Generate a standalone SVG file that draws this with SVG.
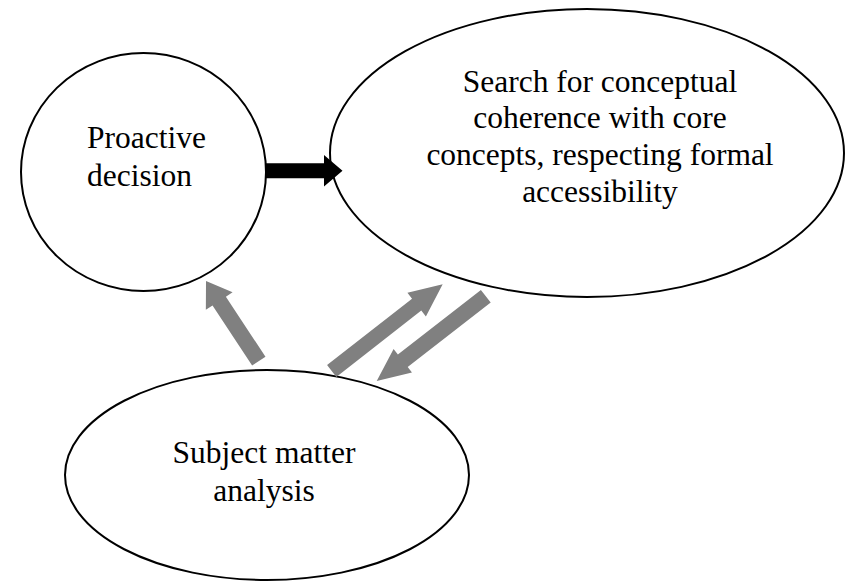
<svg xmlns="http://www.w3.org/2000/svg" width="846" height="582" viewBox="0 0 846 582">
  <style>
    .node { fill: #ffffff; stroke: #000000; stroke-width: 2; }
    .label { font-family: "Liberation Serif", "Times New Roman", serif; font-size: 31.5px; fill: #000000; }
    .gray { fill: #808080; stroke: none; }
    .black { fill: #000000; stroke: none; }
  </style>
  <rect x="0" y="0" width="846" height="582" fill="#ffffff"/>
  <g id="node-proactive">
    <ellipse class="node" cx="143.5" cy="172" rx="122.5" ry="119"/>
    <text class="label" x="87" y="147.7">Proactive</text>
    <text class="label" x="87" y="185.5">decision</text>
  </g>
  <g id="node-search">
    <ellipse class="node" cx="587" cy="153" rx="257" ry="144"/>
    <text class="label" text-anchor="middle" x="600" y="91.7">Search for conceptual</text>
    <text class="label" text-anchor="middle" x="600" y="128.4">coherence with core</text>
    <text class="label" text-anchor="middle" x="600" y="165.1">concepts, respecting formal</text>
    <text class="label" text-anchor="middle" x="600" y="201.8">accessibility</text>
  </g>
  <g id="node-subject">
    <ellipse class="node" cx="267" cy="475" rx="202" ry="105"/>
    <text class="label" text-anchor="middle" x="264" y="463.3">Subject matter</text>
    <text class="label" text-anchor="middle" x="264" y="500.5">analysis</text>
  </g>
  <g id="connectors">
    <path class="black" d="M266,163.3 L324,163.3 L324,155 L342.5,170.8 L324,186.6 L324,178.3 L266,178.3 Z"/>
    <path class="gray" transform="translate(258.8,361.2) rotate(-123.36)" d="M0,-8 L72,-8 L72,-16 L96,0 L72,16 L72,8 L0,8 Z"/>
    <path class="gray" transform="translate(331.7,371) rotate(-37.99)" d="M0,-7.5 L107.8,-7.5 L107.8,-15 L140.8,0 L107.8,15 L107.8,7.5 L0,7.5 Z"/>
    <path class="gray" transform="translate(485.8,296.3) rotate(142.17)" d="M0,-8 L105.1,-8 L105.1,-15 L138.1,0 L105.1,15 L105.1,8 L0,8 Z"/>
  </g>
</svg>
